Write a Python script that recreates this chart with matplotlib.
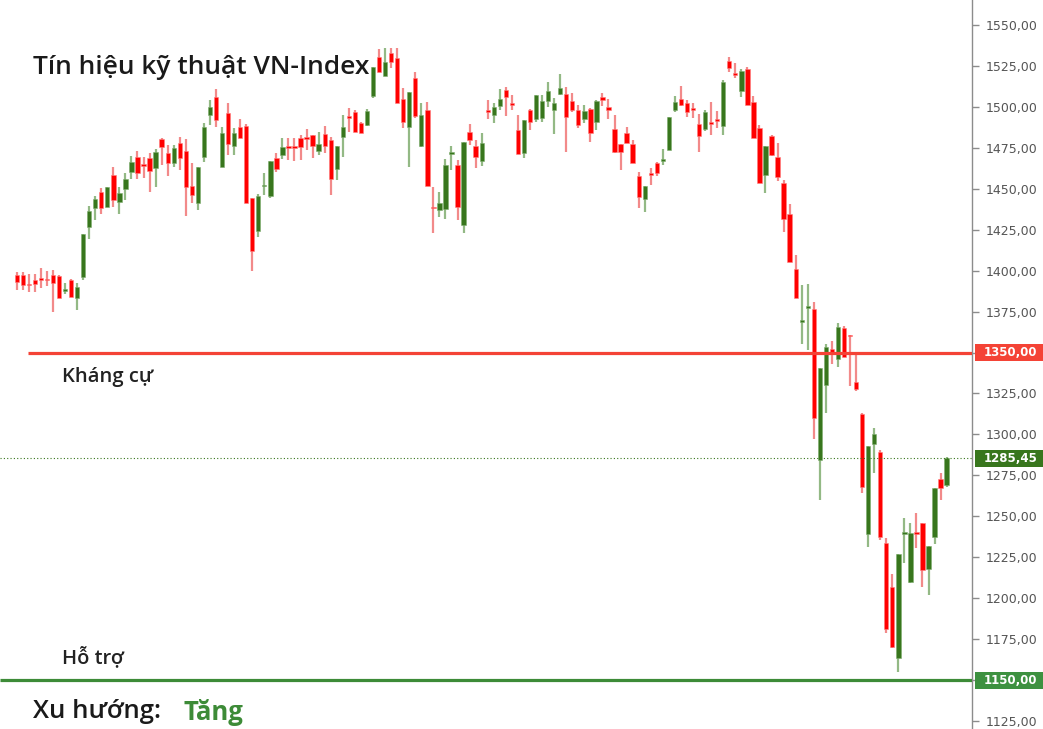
import matplotlib
matplotlib.use("Agg")
import matplotlib.pyplot as plt
from matplotlib.patches import Rectangle
from matplotlib.transforms import blended_transform_factory
import numpy as np

opens = [1397.3,1397.3,1391.5,1394.3,1394.5,1394.5,1397.3,1396.7,1387.5,1394.3,1383.1,1396.3,1426.8,1438.1,1448.2,1438.7,1458.4,1442.1,1449.9,1460.4,
         1469.4,1464.2,1468.8,1462.5,1480.4,1472.0,1465.5,1478.1,1473.2,1451.7,1441.1,1469.6,1495.0,1506.0,1463.5,1496.5,1476.1,1487.7,1488.3,1444.4,
         1424.4,1451.4,1445.6,1468.8,1470.6,1475.6,1475.6,1481.2,1480.8,1482.8,1473.2,1483.4,1479.8,1461.9,1481.8,1493.9,1497.1,1490.2,1488.9,1506.6,
         1530.6,1518.9,1533.1,1529.7,1504.6,1487.5,1517.5,1476.1,1498.1,1438.3,1437.0,1437.5,1471.5,1464.5,1427.9,1484.8,1476.1,1467.1,1497.2,1495.0,
         1500.5,1510.3,1501.8,1485.9,1472.0,1498.1,1492.4,1493.0,1503.8,1498.1,1507.9,1507.9,1503.8,1498.1,1492.4,1498.5,1490.9,1505.8,1499.7,1486.3,
         1477.3,1484.2,1477.3,1457.8,1443.6,1458.6,1465.5,1467.0,1473.7,1498.1,1504.6,1502.6,1498.3,1489.5,1486.3,1490.1,1491.5,1488.3,1528.2,1519.6,
         1509.9,1523.1,1503.2,1486.9,1458.4,1482.2,1469.2,1453.7,1434.6,1400.8,1368.6,1377.4,1376.4,1284.4,1330.2,1352.2,1345.9,1364.8,1360.2,1332.2,
         1312.5,1239.2,1294.1,1289.4,1233.9,1207.0,1163.3,1239.0,1210.0,1239.4,1245.7,1217.6,1237.2,1272.6,1269.1]
closes = [1393.2,1391.2,1391.0,1391.7,1394.2,1394.0,1392.6,1383.1,1387.8,1383.9,1390.2,1422.4,1436.6,1443.7,1438.1,1451.3,1443.1,1447.4,1456.0,1466.5,
          1459.8,1463.8,1461.0,1472.6,1475.3,1465.5,1474.9,1468.6,1450.9,1446.2,1463.3,1487.9,1499.9,1492.0,1484.0,1477.3,1484.2,1481.0,1441.5,1412.2,
          1445.6,1451.7,1467.1,1461.9,1475.7,1475.0,1475.0,1475.3,1480.3,1476.1,1477.3,1476.1,1455.8,1476.1,1487.9,1493.4,1484.8,1484.2,1497.7,1524.5,
          1521.5,1527.6,1527.6,1502.2,1490.9,1509.3,1494.4,1495.0,1451.7,1438.0,1441.5,1464.5,1471.7,1438.7,1478.7,1479.8,1469.6,1478.1,1496.9,1500.1,
          1504.6,1505.8,1501.4,1471.2,1492.0,1490.9,1507.3,1503.8,1509.9,1502.6,1511.4,1494.0,1498.1,1488.9,1497.7,1484.2,1503.8,1504.2,1498.1,1472.6,
          1472.6,1478.1,1465.5,1444.8,1451.7,1458.4,1459.8,1467.4,1494.0,1503.2,1501.2,1497.1,1498.0,1482.2,1497.1,1489.8,1491.2,1515.4,1523.6,1519.4,
          1522.1,1501.2,1480.8,1453.7,1476.1,1470.6,1457.0,1431.4,1405.5,1383.1,1368.9,1377.7,1309.8,1340.4,1353.2,1349.9,1365.4,1347.1,1359.9,1327.5,
          1268.1,1292.9,1300.2,1237.2,1181.0,1170.4,1227.0,1239.2,1240.0,1239.0,1217.2,1231.8,1267.0,1267.1,1285.45]
highs = [1399.4,1399.4,1398.0,1398.0,1401.6,1399.8,1400.4,1397.3,1392.5,1394.9,1392.5,1422.4,1439.5,1445.6,1450.5,1451.3,1463.3,1451.3,1459.6,1470.0,
         1473.2,1469.6,1471.8,1474.3,1481.0,1476.7,1476.7,1481.8,1480.4,1465.7,1463.3,1490.2,1504.2,1510.9,1487.9,1502.4,1487.1,1492.4,1489.5,1444.4,
         1446.8,1459.6,1467.1,1471.8,1481.0,1481.0,1481.0,1482.8,1486.5,1482.8,1484.8,1488.3,1481.8,1476.1,1495.0,1499.3,1498.1,1490.8,1498.7,1524.5,
         1535.3,1536.0,1536.0,1536.0,1511.5,1509.3,1521.5,1502.6,1503.2,1451.3,1448.2,1468.0,1476.1,1467.6,1478.7,1489.5,1479.8,1483.9,1504.2,1502.6,
         1510.7,1512.3,1507.3,1495.0,1492.0,1498.5,1507.3,1507.3,1515.4,1505.2,1520.1,1512.3,1508.3,1501.2,1501.2,1499.1,1504.2,1508.3,1504.6,1495.0,
         1477.3,1487.9,1479.8,1460.4,1451.7,1462.5,1466.5,1474.1,1494.0,1506.6,1512.8,1504.2,1502.2,1495.7,1498.1,1503.2,1497.7,1516.4,1530.3,1526.6,
         1522.9,1524.2,1506.6,1488.9,1476.1,1482.8,1478.1,1455.4,1440.7,1409.6,1391.2,1391.8,1381.0,1340.4,1355.2,1357.2,1368.2,1366.0,1360.7,1349.1,
         1313.3,1292.9,1303.7,1290.4,1236.5,1214.8,1227.0,1248.8,1245.7,1251.8,1245.7,1231.8,1267.0,1276.6,1286.0]
lows = [1388.2,1388.2,1387.1,1387.0,1389.4,1390.6,1374.9,1383.1,1385.7,1383.9,1376.0,1394.3,1419.3,1430.9,1434.6,1438.7,1439.0,1434.6,1443.1,1456.0,
        1456.0,1456.6,1448.2,1451.3,1464.5,1457.8,1463.3,1461.5,1433.4,1441.3,1437.0,1466.5,1488.9,1487.7,1463.5,1470.6,1470.6,1481.0,1441.5,1400.0,
        1420.4,1446.2,1444.6,1460.4,1468.0,1467.6,1467.0,1467.6,1473.7,1468.8,1470.6,1471.8,1446.2,1455.4,1469.4,1484.8,1484.8,1484.2,1488.3,1505.4,
        1521.5,1518.9,1523.6,1502.2,1487.1,1463.5,1493.0,1475.7,1451.7,1423.2,1432.9,1431.4,1461.5,1430.9,1423.2,1476.7,1462.5,1463.9,1492.4,1490.3,
        1498.1,1494.4,1498.1,1471.2,1468.6,1485.9,1490.9,1490.9,1500.1,1483.4,1507.3,1472.6,1497.0,1486.9,1490.3,1478.7,1485.9,1500.5,1492.4,1472.0,
        1461.5,1477.8,1465.5,1438.1,1436.0,1452.3,1457.8,1464.5,1473.7,1497.1,1500.5,1494.0,1493.0,1472.6,1485.3,1482.8,1486.9,1482.8,1521.5,1517.5,
        1506.2,1501.2,1480.8,1453.7,1447.2,1470.0,1454.9,1423.8,1405.5,1383.1,1355.2,1351.6,1297.0,1260.0,1313.3,1343.0,1341.4,1347.1,1329.5,1326.7,
        1264.0,1231.1,1276.6,1235.6,1178.9,1169.4,1155.1,1221.3,1209.1,1230.5,1207.0,1201.9,1233.1,1260.0,1267.7]

resistance = 1350.0
support = 1150.0
last_price = 1285.45
y_ticks = list(range(1125, 1551, 25))
title = "Tín hiệu kỹ thuật VN-Index"
label_res = "Kháng cự"
label_sup = "Hỗ trợ"
trend_label = "Xu hướng:"
trend_value = "Tăng"

UP = "#38761d"
DOWN = "#ff0000"
UP_W = "#93b985"
DOWN_W = "#f28a8a"

W, H = 1043, 729
fig = plt.figure(figsize=(W/100, H/100), dpi=100)
ax = fig.add_axes([0, 0, 972/W, 1])
ax.set_xlim(-2.77, 158.2)
ax.set_ylim(1120.1, 1565.27)

x = np.arange(len(opens))
o = np.array(opens); c = np.array(closes); hi = np.array(highs); lo = np.array(lows)
up = c >= o
ax.vlines(x[up], lo[up], hi[up], color=UP_W, lw=1.6, zorder=2)
ax.vlines(x[~up], lo[~up], hi[~up], color=DOWN_W, lw=1.6, zorder=2)
bottom = np.minimum(o, c)
height = np.maximum(np.abs(c - o), 1.1)
ax.bar(x[up], height[up], bottom=bottom[up], width=0.72, color=UP, edgecolor="#7fae70", lw=0.4, zorder=3)
ax.bar(x[~up], height[~up], bottom=bottom[~up], width=0.72, color=DOWN, edgecolor="#ff8080", lw=0.4, zorder=3)

# support/resistance
ax.hlines(resistance, 1.9, 158.2, color="#f44336", lw=2.3, zorder=4)
ax.hlines(support, -2.77, 158.2, color="#3d8b37", lw=2.3, zorder=4)
ax.hlines(last_price, -2.77, 158.2, color=UP, lw=0.8, linestyles=(0, (1, 2)), zorder=4)

# axes styling
for s in ["top", "left", "bottom"]:
    ax.spines[s].set_visible(False)
ax.spines["right"].set_color("#8c8c8c")
ax.spines["right"].set_linewidth(1.0)
ax.set_xticks([])
ax.yaxis.tick_right()
ax.set_yticks(y_ticks)
ax.set_yticklabels(["" if v in (resistance, support) else f"{v:.2f}".replace(".", ",")
                    for v in y_ticks])
ax.tick_params(axis="y", length=5, width=1, color="#8c8c8c", labelcolor="#555555",
               labelsize=9, pad=5)

trans = blended_transform_factory(ax.transAxes, ax.transData)
hbox = 17 * (1565.27 - 1120.1) / H
for val, col in [(resistance, "#f44336"), (last_price, UP), (support, "#3d9140")]:
    ax.add_patch(Rectangle((1.003, val - hbox/2), 0.075, hbox, transform=trans,
                           facecolor=col, edgecolor="none", clip_on=False, zorder=6))
    ax.text(1.0125, val, f"{val:.2f}".replace(".", ","), transform=trans, ha="left", va="center",
            color="white", fontsize=8.5, fontweight="bold", zorder=7, clip_on=False)

fig.text(33/W, 1 - 68/H, title, fontsize=19, color="#1a1a1a", ha="left", va="center",
         family="Open Sans", fontweight="semibold")
fig.text(62/W, 1 - 377/H, label_res, fontsize=14.5, color="#222222", ha="left", va="center",
         family="Open Sans", fontweight="semibold")
fig.text(62/W, 1 - 657/H, label_sup, fontsize=14.5, color="#222222", ha="left", va="center",
         family="Open Sans", fontweight="semibold")
fig.text(33/W, 1 - 712/H, trend_label, fontsize=18.5, color="#1a1a1a", ha="left", va="center",
         family="Open Sans", fontweight="semibold")
fig.text(183/W, 1 - 712/H, trend_value, fontsize=18.5, color="#3d8b37", ha="left", va="center",
         family="Open Sans", fontweight="bold")

fig.savefig("out.png", dpi=100)
